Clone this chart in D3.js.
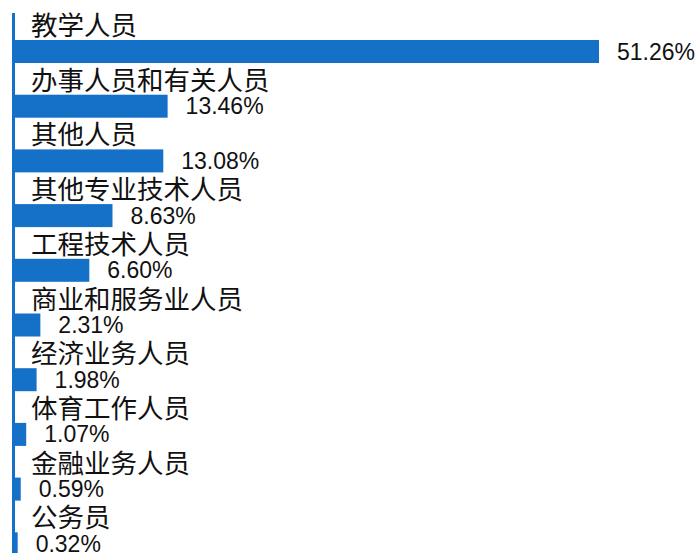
<!DOCTYPE html>
<html>
<head>
<meta charset="utf-8">
<script src="https://cdn.jsdelivr.net/npm/d3@7"></script>
<style>
  body { margin: 0; background: #fff; }
  svg { display: block; }
</style>
</head>
<body>
<svg id="chart"></svg>
<script>
// occupations and their share (%)
const categories = ["教学人员", "办事人员和有关人员", "其他人员", "其他专业技术人员", "工程技术人员",
    "商业和服务业人员", "经济业务人员", "体育工作人员", "金融业务人员", "公务员"];
const shares = [51.26, 13.46, 13.08, 8.63, 6.60, 2.31, 1.98, 1.07, 0.59, 0.32];

const width = 700;
const height = 553;
const barColor = "#1570c8";
const barHeight = 23;
const fontFamily = "'Liberation Sans', Arial, 'Noto Sans CJK SC', sans-serif";

const svg = d3.select("#chart")
    .attr("width", width)
    .attr("height", height);

const x = d3.scaleLinear()
    .domain([0, 51.26])
    .range([14, 599]);

const y = d3.scaleBand()
    .domain(categories)
    .range([40, 40 + 54.7 * categories.length]);

const rows = categories.map((c, i) => ({ name: c, value: shares[i] }));

// bars
svg.selectAll("rect.bar")
    .data(rows)
    .enter().append("rect")
    .attr("class", "bar")
    .attr("x", x(0))
    .attr("y", d => y(d.name))
    .attr("width", d => x(d.value) - x(0))
    .attr("height", barHeight)
    .attr("fill", barColor);

// category labels above each bar
svg.selectAll("text.cat")
    .data(rows)
    .enter().append("text")
    .attr("class", "cat")
    .attr("x", 31)
    .attr("y", d => y(d.name) - 5)
    .attr("font-family", "'Noto Sans CJK SC', sans-serif")
    .attr("font-size", 26.5)
    .attr("fill", "#111")
    .text(d => d.name);

// value labels right of bar end
svg.selectAll("text.val")
    .data(rows)
    .enter().append("text")
    .attr("class", "val")
    .attr("x", d => x(d.value) + 18)
    .attr("y", d => y(d.name) + 19.5)
    .attr("font-family", fontFamily)
    .attr("font-size", 23)
    .attr("fill", "#111")
    .text(d => d.value.toFixed(2) + "%");

// vertical axis line
svg.append("line")
    .attr("x1", 13.5)
    .attr("x2", 13.5)
    .attr("y1", 13)
    .attr("y2", height)
    .attr("stroke", barColor)
    .attr("stroke-width", 3);
</script>
</body>
</html>
